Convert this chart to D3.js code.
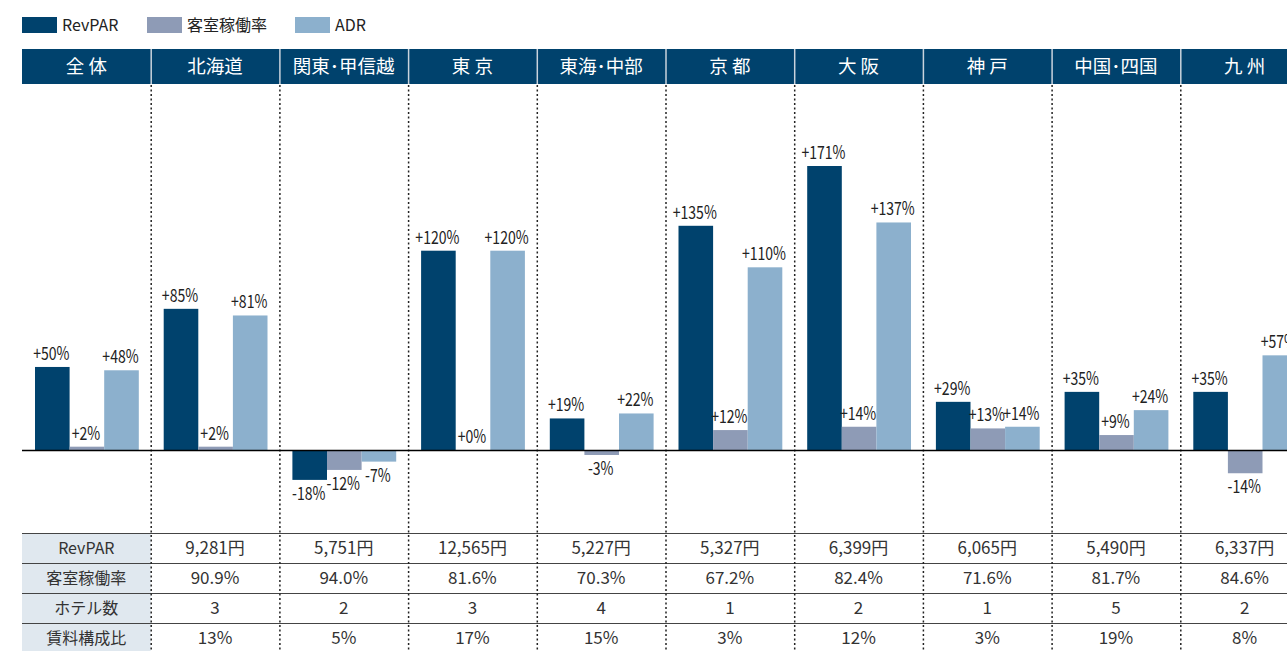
<!DOCTYPE html>
<html>
<head>
<meta charset="utf-8">
<script src="https://cdn.jsdelivr.net/npm/d3@7"></script>
<style>
  body { margin: 0; background: #fff; }
  svg { display: block; font-family: "Noto Sans CJK JP", "Noto Sans", sans-serif; }
</style>
</head>
<body>
<div id="chart"></div>
<script>
// regions (header row)
const regions = ["全 体","北海道","関東･甲信越","東 京","東海･中部","京 都","大 阪","神 戸","中国･四国","九 州"]
const series = ["RevPAR","客室稼働率","ADR"]
const colors = ["#00426d","#8e9bb6","#8cb0cd"]

// growth rates (%)
const revpar = [50,85,-18,120,19,135,171,29,35,35]
const occupancy = [2,2,-12,0,-3,12,14,13,9,-14]
const adr = [48,81,-7,120,22,110,137,14,24,57]

// table rows (first column holds the row label)
const tableLabels = ["RevPAR","客室稼働率","ホテル数","賃料構成比"]
const tRevpar = ["9,281円","5,751円","12,565円","5,227円","5,327円","6,399円","6,065円","5,490円","6,337円"]
const tOccupancy = ["90.9%","94.0%","81.6%","70.3%","67.2%","82.4%","71.6%","81.7%","84.6%"]
const tHotels = ["3","2","3","4","1","2","1","5","2"]
const tRent = ["13%","5%","17%","15%","3%","12%","3%","19%","8%"]
const tableRows = [tRevpar, tOccupancy, tHotels, tRent]

const width = 1287, height = 651
const colW = 128.7
const left = 22

let svg = d3.select("#chart").append("svg")
  .attr("width", width)
  .attr("height", height)

let x = d3.scaleBand()
  .domain(regions)
  .range([left, left + colW * regions.length])

let xs = d3.scaleBand()
  .domain(series)
  .range([13, 13 + 34.6 * 3])

let y = d3.scaleLinear()
  .domain([0, 171])
  .range([450, 166])

//legend
let legend = svg.append("g")
let legendX = [22, 147, 295]
series.forEach((s, i) => {
  legend.append("rect")
    .attr("x", legendX[i]).attr("y", 17)
    .attr("width", 35).attr("height", 16)
    .attr("fill", colors[i])
  legend.append("text")
    .attr("x", legendX[i] + 40).attr("y", 31)
    .attr("font-size", 16)
    .attr("fill", "#222")
    .text(s)
})

//header bar
svg.append("rect")
  .attr("x", left).attr("y", 49)
  .attr("width", width - left).attr("height", 35)
  .attr("fill", "#00426d")

regions.forEach((r, i) => {
  if (i > 0) {
    svg.append("line")
      .attr("x1", x(r) + 0.5).attr("x2", x(r) + 0.5)
      .attr("y1", 49).attr("y2", 84)
      .attr("stroke", "#c9d3dd").attr("stroke-width", 1.5)
  }
  svg.append("text")
    .attr("x", x(r) + colW / 2).attr("y", 73)
    .attr("text-anchor", "middle")
    .attr("font-size", 18.5)
    .attr("fill", "#fff")
    .text(r)
})

//table background for label column
svg.append("rect")
  .attr("x", left).attr("y", 533)
  .attr("width", colW).attr("height", height - 533)
  .attr("fill", "#e0e8ef")

//table horizontal lines
;[533, 563, 593, 623].forEach(ly => {
  svg.append("line")
    .attr("x1", left).attr("x2", width)
    .attr("y1", ly + 0.5).attr("y2", ly + 0.5)
    .attr("stroke", "#444").attr("stroke-width", 1)
})

//dotted column separators
regions.slice(1).forEach(r => {
  svg.append("line")
    .attr("x1", x(r) + 0.5).attr("x2", x(r) + 0.5)
    .attr("y1", 85).attr("y2", height)
    .attr("stroke", "#222")
    .attr("stroke-width", 1.5)
    .attr("stroke-dasharray", "2,2.5")
})

//bars
let data = regions.map((r, i) => ({region: r, values: [revpar[i], occupancy[i], adr[i]]}))

let groups = svg.selectAll(".grp")
  .data(data)
  .enter().append("g")
  .attr("transform", d => "translate(" + x(d.region) + ",0)")

groups.selectAll("rect")
  .data(d => d.values.map((v, j) => ({s: series[j], v: v, c: colors[j]})))
  .enter().append("rect")
  .attr("x", d => xs(d.s))
  .attr("width", xs.bandwidth())
  .attr("y", d => Math.min(y(d.v), y(0)))
  .attr("height", d => Math.abs(y(d.v) - y(0)))
  .attr("fill", d => d.c)

// condensed-looking labels: squeeze horizontally
groups.selectAll("text")
  .data(d => d.values.map((v, j) => ({s: series[j], v: v})))
  .enter().append("text")
  .attr("transform", d => "translate(" + (xs(d.s) + xs.bandwidth() / 2 - 1) + ","
    + (d.v >= 0 ? y(d.v) - 7 : y(d.v) + 20) + ") scale(0.78,1)")
  .attr("text-anchor", "middle")
  .attr("font-size", 18)
  .attr("fill", "#222")
  .text(d => (d.v >= 0 ? "+" : "") + d.v + "%")

//baseline
svg.append("line")
  .attr("x1", left).attr("x2", width)
  .attr("y1", y(0) + 0.5).attr("y2", y(0) + 0.5)
  .attr("stroke", "#000").attr("stroke-width", 1.5)

//table text
tableLabels.forEach((lab, k) => {
  let ty = 533 + k * 30 + 21
  svg.append("text")
    .attr("x", left + colW / 2).attr("y", ty)
    .attr("text-anchor", "middle")
    .attr("font-size", 16)
    .attr("fill", "#333")
    .text(lab)
  tableRows[k].forEach((v, i) => {
    svg.append("text")
      .attr("x", x(regions[i + 1]) + colW / 2).attr("y", ty)
      .attr("text-anchor", "middle")
      .attr("font-size", 17)
      .attr("fill", "#333")
      .text(v)
  })
})
</script>
</body>
</html>
